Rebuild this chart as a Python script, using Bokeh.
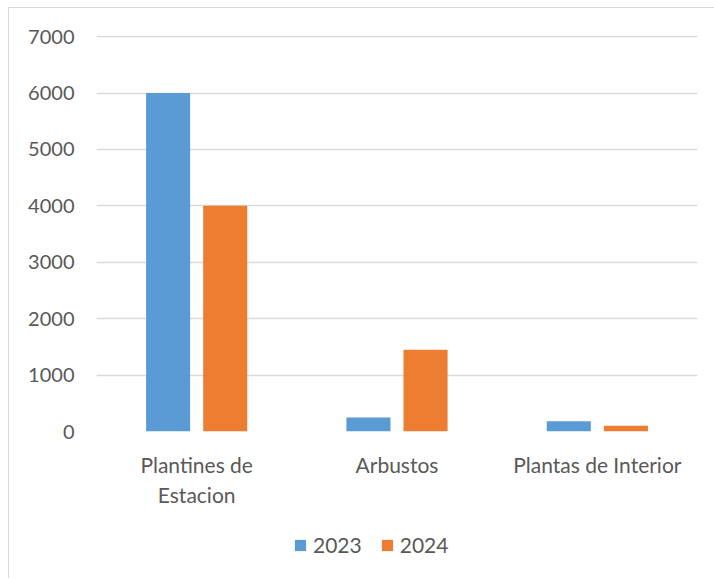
from bokeh.plotting import figure
from bokeh.layouts import column
from bokeh.models import ColumnDataSource, FactorRange, Range1d, FixedTicker, Legend, LegendItem
from bokeh.transform import dodge
from bokeh.embed import file_html
from bokeh.resources import INLINE

categories = ["Plantines de\nEstacion", "Arbustos", "Plantas de Interior"]
series_names = ["2023", "2024"]
series_colors = ["#5B9BD5", "#ED7D31"]
values_2023 = [6000, 250, 180]
values_2024 = [4000, 1450, 100]
y_ticks = [0, 1000, 2000, 3000, 4000, 5000, 6000, 7000]

src = ColumnDataSource(dict(cat=categories, v2023=values_2023, v2024=values_2024))

FONT = "Lato"
TXT = "#595959"

p = figure(x_range=FactorRange(*categories, range_padding=0),
           y_range=Range1d(0, 7020),
           width=705, height=505, output_backend="svg", toolbar_location=None,
           min_border_left=87, min_border_right=17, min_border_top=27, min_border_bottom=82)
p.outline_line_color = None
p.background_fill_color = "white"
p.border_fill_color = "white"

p.vbar(x=dodge("cat", -0.1425, range=p.x_range), top="v2023", width=0.22,
       source=src, fill_color=series_colors[0], line_color=None)
p.vbar(x=dodge("cat", 0.1425, range=p.x_range), top="v2024", width=0.22,
       source=src, fill_color=series_colors[1], line_color=None)

p.yaxis.ticker = FixedTicker(ticks=y_ticks)
p.yaxis.axis_line_color = None
p.yaxis.major_tick_line_color = None
p.yaxis.minor_tick_line_color = None
p.yaxis.major_label_text_font = FONT
p.yaxis.major_label_text_font_size = "20px"
p.yaxis.major_label_text_color = TXT
p.yaxis.major_label_standoff = 16

p.xaxis.axis_line_color = None
p.xaxis.major_tick_line_color = None
p.xaxis.major_label_text_font = FONT
p.xaxis.major_label_text_font_size = "21px"
p.xaxis.major_label_text_color = TXT
p.xaxis.major_label_standoff = 14

p.xgrid.grid_line_color = None
p.ygrid.grid_line_color = "#d9d9d9"
p.ygrid.grid_line_width = 1.5
p.ygrid.ticker = FixedTicker(ticks=y_ticks)

# legend strip (its swatch renderers sit outside the visible range)
pl = figure(width=705, height=65, x_range=Range1d(0, 1), y_range=Range1d(0, 1),
            output_backend="svg", toolbar_location=None,
            min_border_left=0, min_border_right=0, min_border_top=0, min_border_bottom=0)
pl.axis.visible = False
pl.grid.grid_line_color = None
pl.outline_line_color = None
pl.border_fill_color = "white"
lr1 = pl.vbar(x=[5], top=[5], bottom=[4], width=0.1, fill_color=series_colors[0], line_color=None)
lr2 = pl.vbar(x=[6], top=[5], bottom=[4], width=0.1, fill_color=series_colors[1], line_color=None)
legend = Legend(items=[LegendItem(label=series_names[0], renderers=[lr1]),
                       LegendItem(label=series_names[1], renderers=[lr2])],
                orientation="horizontal", location=(197, 21),
                label_text_font=FONT, label_text_font_size="21px", label_text_color=TXT,
                glyph_width=14, glyph_height=14, label_standoff=6, spacing=18,
                border_line_color=None, background_fill_alpha=0, margin=0, padding=0)
pl.add_layout(legend, "center")

layout = column(p, pl, spacing=0, margin=(7, 0, 0, 8),
                styles={"border-top": "1px solid #d9d9d9", "border-left": "1px solid #d9d9d9"})

open("out.html", "w").write(file_html(layout, INLINE))
